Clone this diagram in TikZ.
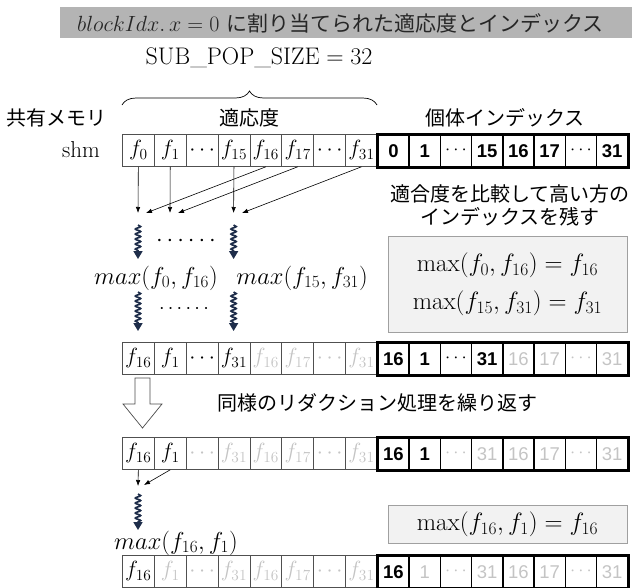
\RequirePackage{fix-cm}
\documentclass[tikz,border=0pt]{standalone}
\usepackage{fontspec}
\newfontfamily\jp{Noto Sans CJK JP}
\newfontfamily\numf{Liberation Sans}
\usetikzlibrary{arrows.meta,decorations.pathmorphing,decorations.pathreplacing}
\definecolor{titlegray}{HTML}{B4B4B4}
\definecolor{boxfill}{HTML}{F2F2F2}
\definecolor{boxline}{HTML}{A0A0A0}
\definecolor{fline}{HTML}{505050}
\definecolor{faded}{HTML}{C4C4C4}
\definecolor{navy}{HTML}{1E2D4A}
\newcommand\fs[1]{\fontsize{#1}{#1}\selectfont}
\newcommand\cellrow[4]{%
  \foreach \sty/\txt [count=\ci from 0] in {#3}
    {\node[fcell,\sty] (#1f\ci) at ({122+\ci*31.875},#2) {$\txt$};}
  \foreach \sty/\txt [count=\ci from 0] in {#4}
    {\node[icell,\sty] (#1i\ci) at ({377+\ci*31.25},#2) {\txt};}
  \draw[line width=2.4pt] (#1i0.north west) rectangle (#1i7.south east);
}
\begin{document}
\begin{tikzpicture}[x=1pt,y=-1pt,
  fcell/.style={draw=fline, line width=0.8pt, minimum width=31.875pt, minimum height=32pt,
    inner sep=0pt, anchor=north west, font=\fs{22}},
  icell/.style={draw=black, line width=1.6pt, minimum width=31.25pt, minimum height=32pt,
    inner sep=0pt, anchor=north west},
  fb/.style={text=black},
  fg/.style={text=faded},
  ib/.style={text=black, font=\numf\bfseries\fs{18.5}},
  ig/.style={text=faded, font=\numf\fs{18.5}},
  jpl/.style={font=\jp\fs{20}},
  tarrow/.style={-{Latex[length=6pt,width=4.5pt]}, line width=0.6pt},
  wavy/.style={draw=navy, line width=1.7pt, decorate,
    decoration={snake, amplitude=2.6pt, segment length=5pt, post length=7pt},
    -{Triangle[length=8pt,width=9pt]}},
  mbox/.style={draw=boxline, fill=boxfill, line width=0.8pt, minimum width=239pt, inner sep=0pt}
]
\useasboundingbox (0,0) rectangle (632,587);

% title
\node[fill=titlegray, minimum width=572pt, minimum height=31pt, inner sep=0pt, anchor=north west]
  (title) at (60,7) {};
\node[anchor=west, inner sep=0pt, text=black!85] (titletext) at (77,23)
  {\fs{22}$blockIdx.\,x = 0$\ {\jp\fs{21}に割り当てられた適応度とインデックス}};

\node (subpop) at (259,58) {\fs{24}SUB\_POP\_SIZE${}=32$};
\coordinate (brl) at (122,105);
\coordinate (brr) at (377,105);
\draw[decorate, decoration={brace, amplitude=14pt}, line width=0.7pt] (brl) -- (brr);

\node[jpl] (lshared) at (56,118) {共有メモリ};
\node[jpl] (lfit) at (249,118) {適応度};
\node[jpl] (lidx) at (505,118) {個体インデックス};
\node (shm) at (81,150) {\fs{23}shm};

% rows
\cellrow{ra}{134}{fb/f_0,fb/f_1,fb/\cdots,fb/f_{15},fb/f_{16},fb/f_{17},fb/\cdots,fb/f_{31}}
  {ib/0,ib/1,ib/$\cdots$,ib/15,ib/16,ib/17,ib/$\cdots$,ib/31}
\cellrow{rb}{342}{fb/f_{16},fb/f_1,fb/\cdots,fb/f_{31},fg/f_{16},fg/f_{17},fg/\cdots,fg/f_{31}}
  {ib/16,ib/1,ib/$\cdots$,ib/31,ig/16,ig/17,ig/$\cdots$,ig/31}
\cellrow{rc}{437}{fb/f_{16},fb/f_1,fg/\cdots,fg/f_{31},fg/f_{16},fg/f_{17},fg/\cdots,fg/f_{31}}
  {ib/16,ib/1,ig/$\cdots$,ig/31,ig/16,ig/17,ig/$\cdots$,ig/31}
\cellrow{rd}{555}{fb/f_{16},fg/f_1,fg/\cdots,fg/f_{31},fg/f_{16},fg/f_{17},fg/\cdots,fg/f_{31}}
  {ib/16,ig/1,ig/$\cdots$,ig/31,ig/16,ig/17,ig/$\cdots$,ig/31}

% first reduction arrows
\coordinate (e0) at (138,213);   \coordinate (e0d) at (146,213);
\coordinate (e1) at (170,213);   \coordinate (e1d) at (178,213);
\coordinate (e3) at (233.6,213); \coordinate (e3d) at (242,213);
\draw[tarrow] (raf0.south) -- (e0);
\draw[tarrow] (raf1.south) -- (e1);
\draw[tarrow] (raf3.south) -- (e3);
\draw[tarrow] (raf4.south) -- (e0d);
\draw[tarrow] (raf5.south) -- (e1d);
\draw[tarrow] (raf7.south) -- (e3d);

\coordinate (w1a) at (138,225);   \coordinate (w1b) at (138,259);
\coordinate (w2a) at (233.6,225); \coordinate (w2b) at (233.6,259);
\draw[wavy] (w1a) -- (w1b);
\draw[wavy] (w2a) -- (w2b);
\node (dots1) at (186,241) {\fs{24}$\cdots\cdots$};

\node (m1) at (156,278) {\fs{24.5}$max(f_0,f_{16})$};
\node (m2) at (302,278) {\fs{24.5}$max(f_{15},f_{31})$};

\coordinate (w3a) at (138,292);   \coordinate (w3b) at (138,331);
\coordinate (w4a) at (233.6,292); \coordinate (w4b) at (233.6,331);
\draw[wavy] (w3a) -- (w3b);
\draw[wavy] (w4a) -- (w4b);
\node (dots2) at (184,309) {\fs{20}$\cdots\cdots$};

\node[jpl, align=center, font=\jp\fontsize{20}{23}\selectfont] (cmp) at (510,205)
  {適合度を比較して高い方の\\インデックスを残す};
\node[mbox, minimum height=96pt, align=center, font=\fontsize{25}{38}\selectfont] (box1) at (507.5,284)
  {$\max(f_0,f_{16}) = f_{16}$\\$\max(f_{15},f_{31}) = f_{31}$};

% hollow arrow and repeat text
\draw[draw=black!70, fill=white, line width=0.7pt] (135,378) -- (150,378) -- (150,404) -- (162,404)
  -- (142.5,428) -- (123,404) -- (135,404) -- cycle;
\node[jpl] (repeat) at (377,403) {同様のリダクション処理を繰り返す};

% last reduction
\coordinate (e5) at (138,486); \coordinate (e5d) at (144,485);
\draw[tarrow] (rcf0.south) -- (e5);
\draw[tarrow] (rcf1.south) -- (e5d);
\coordinate (w5a) at (138,494); \coordinate (w5b) at (138,530);
\draw[wavy] (w5a) -- (w5b);
\node (m3) at (176,543) {\fs{24.5}$max(f_{16},f_1)$};
\node[mbox, minimum height=38pt, font=\fs{25}] (box2) at (507.5,524) {$\max(f_{16},f_1) = f_{16}$};
\end{tikzpicture}
\end{document}
